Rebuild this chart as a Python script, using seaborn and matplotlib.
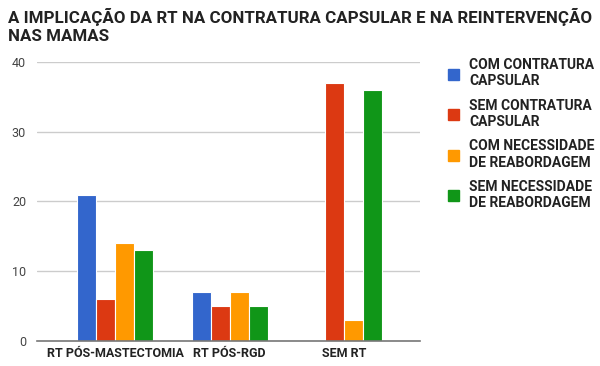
import pandas as pd
import matplotlib.pyplot as plt
import seaborn as sns

categories = ['RT PÓS-MASTECTOMIA', 'RT PÓS-RGD', 'SEM RT']
series = ['COM CONTRATURA\nCAPSULAR', 'SEM CONTRATURA\nCAPSULAR',
          'COM NECESSIDADE\nDE REABORDAGEM', 'SEM NECESSIDADE\nDE REABORDAGEM']
com_contratura = [21, 7, 0]
sem_contratura = [6, 5, 37]
com_reabordagem = [14, 7, 3]
sem_reabordagem = [13, 5, 36]
colors = ['#3366cc', '#dc3912', '#ff9900', '#109618']

rows = []
for name, vals in zip(series, [com_contratura, sem_contratura, com_reabordagem, sem_reabordagem]):
    for cat, v in zip(categories, vals):
        rows.append({'grupo': cat, 'serie': name, 'valor': v})
df = pd.DataFrame(rows)

sns.set_style('white')
plt.rcParams['font.family'] = ['Roboto', 'DejaVu Sans']

fig = plt.figure(figsize=(6, 3.66), dpi=100)
ax = fig.add_axes([0.062, 0.068, 0.638, 0.763])
sns.barplot(data=df, x='grupo', y='valor', hue='serie', palette=colors,
            width=0.66, saturation=1, ax=ax, legend=False)
for p in ax.patches:
    p.set_linewidth(0.8)
    p.set_edgecolor('white')

ax.set_xlim(-0.68, 2.66)
ax.set_ylim(0, 40)
ax.set_yticks([0, 10, 20, 30, 40])
ax.yaxis.grid(True, color='#cccccc', linewidth=1)
ax.set_axisbelow(True)
for s in ['top', 'right', 'left']:
    ax.spines[s].set_visible(False)
ax.spines['bottom'].set_color('#777777')
ax.spines['bottom'].set_linewidth(1.2)
ax.tick_params(axis='both', length=0, pad=4)
ax.tick_params(axis='y', labelsize=9, labelcolor='#444444', pad=8)
ax.set_xticks(range(len(categories)))
ax.set_xticklabels(categories, fontsize=9, fontweight='bold', color='#222222')
ax.set_xlabel('')
ax.set_ylabel('')

fig.text(0.013, 0.978, 'A IMPLICAÇÃO DA RT NA CONTRATURA CAPSULAR E NA REINTERVENÇÃO\nNAS MAMAS',
         fontsize=12.2, fontweight='bold', color='#222222', va='top', ha='left', linespacing=1.25)

handles = [plt.Rectangle((0, 0), 1, 1, color=c) for c in colors]
fig.legend(handles, series, loc='upper left', bbox_to_anchor=(0.725, 0.875), frameon=False,
           prop={'size': 10, 'weight': 'bold'}, handlelength=0.85, handleheight=0.85,
           handletextpad=0.7, labelspacing=0.75, labelcolor='#222222')

fig.savefig('out.png', dpi=100)
